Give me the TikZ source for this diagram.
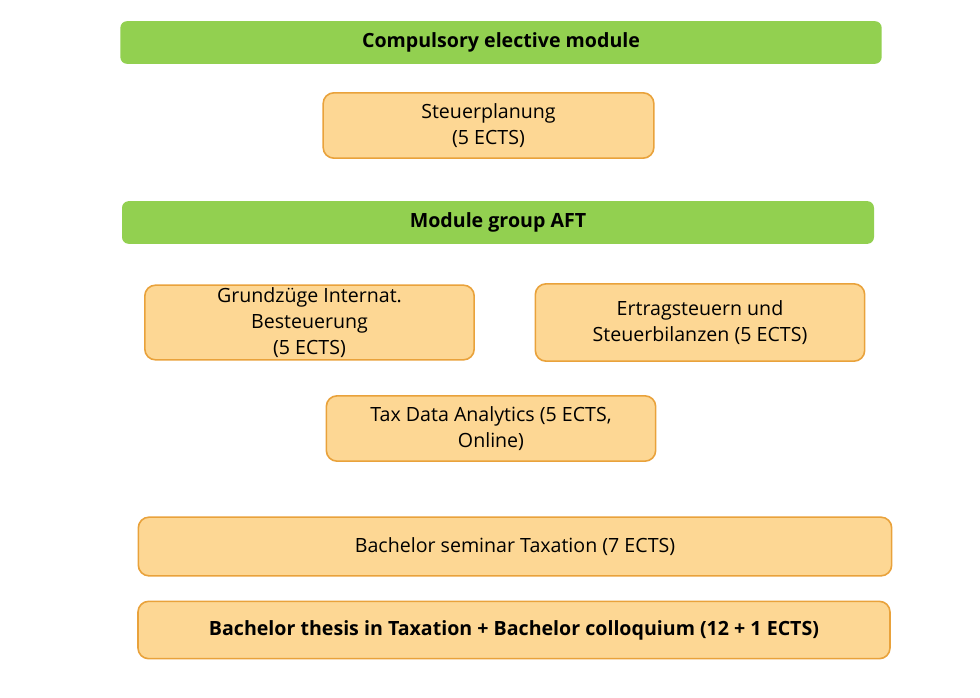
\documentclass[tikz,border=0pt]{standalone}
\usepackage{fontspec}
\setmainfont{Open Sans}
\definecolor{headgreen}{HTML}{92D050}
\definecolor{modfill}{HTML}{FDD794}
\definecolor{modline}{HTML}{E9A23B}
\newcommand{\boxfont}{\fontsize{14.7}{19.5}\selectfont}
\tikzset{
  head/.style={fill=headgreen, rounded corners=5pt, font=\boxfont\bfseries, inner sep=0pt},
  modbox/.style={draw=modline, line width=1.2pt, fill=modfill, rounded corners=8pt, align=center, inner sep=0pt, font=\boxfont}
}
\begin{document}
\begin{tikzpicture}[x=0.75pt, y=-0.75pt]
    % Rahmen
    \useasboundingbox (0,0) rectangle (980,698);
    % Pflichtwahlbereich
    \node[head, minimum width=571pt, minimum height=32pt] (wpm) at (501,42.5) {Compulsory elective module};
    \node[modbox, minimum width=248pt, minimum height=49pt] (stp) at (488.5,125.5) {Steuerplanung\\(5 ECTS)};
    % Modulgruppe
    \node[head, minimum width=564pt, minimum height=32pt] (aft) at (498,222.5) {Module group AFT};
    \node[modbox, minimum width=247pt, minimum height=56pt] (gib) at (309.5,322.5) {Grundzüge Internat.\\Besteuerung\\(5 ECTS)};
    \node[modbox, minimum width=247pt, minimum height=58pt] (ets) at (700,322.5) {Ertragsteuern und\\Steuerbilanzen (5 ECTS)};
    \node[modbox, minimum width=247pt, minimum height=49pt] (tda) at (491,428.5) {Tax Data Analytics (5 ECTS,\\Online)};
    % Abschluss
    \node[modbox, minimum width=565pt, minimum height=44pt] (sem) at (515,546.5) {Bachelor seminar Taxation (7 ECTS)};
    \node[modbox, minimum width=564pt, minimum height=43pt, font=\boxfont\bfseries] (bth) at (514,630) {Bachelor thesis in Taxation + Bachelor colloquium (12 + 1 ECTS)};
\end{tikzpicture}
\end{document}
